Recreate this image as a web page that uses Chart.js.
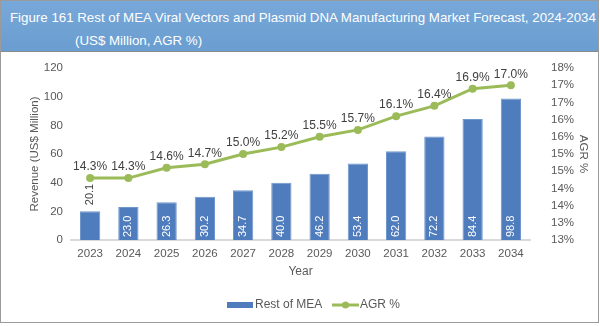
<!DOCTYPE html>
<html>
<head>
<meta charset="utf-8">
<script src="https://cdn.jsdelivr.net/npm/chart.js@4"></script>
<style>
  body { margin: 0; width: 600px; height: 326px; overflow: hidden; background: #fff; font-family: "Liberation Sans", Arial, sans-serif; }
  #frame { position: absolute; left: 0; top: 0; width: 597px; height: 321px; border: 1px solid #9a9a9a; }
  #banner { position: absolute; left: 0; top: 0; width: 597px; height: 50px; background: linear-gradient(#78a8d9, #6a9dd0); border-bottom: 1px solid #8a8a8a; color: #fff; font-size: 13.3px; }
  #banner .l1 { position: absolute; left: 9px; top: 9px; white-space: nowrap; }
  #banner .l2 { position: absolute; left: 74px; top: 32px; white-space: nowrap; }
  #wrap { position: absolute; left: 0; top: 52px; width: 597px; height: 269px; }
</style>
</head>
<body>
<div id="frame">
  <div id="banner">
    <div class="l1">Figure 161 Rest of MEA Viral Vectors and Plasmid DNA Manufacturing Market Forecast, 2024-2034</div>
    <div class="l2">(US$ Million, AGR %)</div>
  </div>
  <div id="wrap"><canvas id="chart"></canvas></div>
</div>
<script>
let years = ['2023', '2024', '2025', '2026', '2027', '2028', '2029', '2030', '2031', '2032', '2033', '2034'];
let revenue = [20.1, 23.0, 26.3, 30.2, 34.7, 40.0, 46.2, 53.4, 62.0, 72.2, 84.4, 98.8];
let agr = [14.3, 14.3, 14.6, 14.7, 15.0, 15.2, 15.5, 15.7, 16.1, 16.4, 16.9, 17.0];

const textColor = '#595959';
const barColor = '#4f7cbd';
const lineColor = '#9bbb59';
const font = '"Liberation Sans", Arial, sans-serif';

// value labels: revenue written upright inside the bar base, AGR above each point
const labelPlugin = {
    id: 'labels',
    afterDatasetsDraw(chart) {
        const ctx = chart.ctx;
        ctx.save();
        ctx.font = '11px ' + font;
        const bars = chart.getDatasetMeta(0).data;
        bars.forEach((bar, i) => {
            const txt = revenue[i].toFixed(1);
            const w = ctx.measureText(txt).width;
            ctx.save();
            ctx.translate(bar.x, 0);
            ctx.rotate(-Math.PI / 2);
            ctx.textBaseline = 'middle';
            ctx.textAlign = 'left';
            if (bar.base - bar.y < w + 9) {
                // too short to hold the text, put it above the bar
                ctx.fillStyle = '#404040';
                ctx.fillText(txt, -(bar.y - 6), 0);
            } else {
                ctx.fillStyle = '#ffffff';
                ctx.fillText(txt, -(bar.base - 3), 0);
            }
            ctx.restore();
        });
        const pts = chart.getDatasetMeta(1).data;
        ctx.font = '12px ' + font;
        ctx.fillStyle = '#404040';
        ctx.textAlign = 'center';
        ctx.textBaseline = 'bottom';
        pts.forEach((p, i) => {
            ctx.fillText(agr[i].toFixed(1) + '%', p.x, p.y - 5);
        });
        ctx.restore();
    },
    afterDraw(chart) {
        // legend row
        const ctx = chart.ctx;
        const y = chart.height - 17;
        ctx.save();
        ctx.font = '12px ' + font;
        ctx.textBaseline = 'middle';
        ctx.fillStyle = barColor;
        ctx.fillRect(226, y - 3, 26, 6);
        ctx.fillStyle = textColor;
        ctx.fillText('Rest of MEA', 254, y);
        ctx.strokeStyle = lineColor;
        ctx.lineWidth = 3;
        ctx.beginPath();
        ctx.moveTo(331, y);
        ctx.lineTo(358, y);
        ctx.stroke();
        ctx.fillStyle = lineColor;
        ctx.beginPath();
        ctx.arc(344.5, y, 3.5, 0, Math.PI * 2);
        ctx.fill();
        ctx.fillStyle = textColor;
        ctx.fillText('AGR %', 359, y);
        ctx.restore();
    }
};

// keep the tick padding from pushing the plot area down
function trimPadding(scale) {
    scale.paddingTop = 7;
    scale.paddingBottom = 7;
}

new Chart(document.getElementById('chart'), {
    data: {
        labels: years,
        datasets: [
            {
                type: 'bar',
                label: 'Rest of MEA',
                data: revenue,
                backgroundColor: barColor,
                borderColor: '#6f97cc',
                borderWidth: 1,
                barPercentage: 0.53,
                categoryPercentage: 1,
                yAxisID: 'y',
                order: 2
            },
            {
                type: 'line',
                label: 'AGR %',
                data: agr,
                borderColor: lineColor,
                backgroundColor: lineColor,
                borderWidth: 3,
                pointRadius: 4,
                pointBackgroundColor: lineColor,
                pointBorderWidth: 0,
                yAxisID: 'y1',
                order: 1
            }
        ]
    },
    options: {
        responsive: true,
        maintainAspectRatio: false,
        animation: false,
        layout: { padding: { top: 15, bottom: 43 } },
        plugins: { legend: { display: false }, tooltip: { enabled: false } },
        scales: {
            x: {
                grid: { display: false, drawTicks: false },
                border: { color: '#d9d9d9', width: 2 },
                ticks: { color: textColor, font: { family: font, size: 11.5 }, padding: 7, maxRotation: 0 },
                title: { display: true, text: 'Year', color: textColor, font: { family: font, size: 12 }, padding: { top: 5, bottom: 0 } },
                afterFit(scale) { scale.height = 39; }
            },
            y: {
                position: 'left',
                min: 0,
                max: 120,
                grid: { display: false, drawTicks: false },
                border: { display: false },
                ticks: { stepSize: 20, color: textColor, font: { family: font, size: 11.5 }, padding: 8 },
                title: { display: true, text: 'Revenue (US$ Million)', color: textColor, font: { family: font, size: 11.5 }, padding: { top: 27, bottom: 0 } },
                afterFit(scale) { scale.width = 70; trimPadding(scale); }
            },
            y1: {
                position: 'right',
                min: 12.5,
                max: 17.5,
                grid: { display: false, drawTicks: false },
                border: { display: false },
                ticks: {
                    stepSize: 0.5,
                    autoSkip: false,
                    color: textColor,
                    font: { family: font, size: 11.5 },
                    padding: 21,
                    callback: v => Math.round(v) + '%'
                },
                title: { display: true, text: 'AGR %', color: textColor, font: { family: font, size: 11.5 }, padding: { top: 8, bottom: 0 } },
                afterFit(scale) { scale.width = 68; trimPadding(scale); }
            }
        }
    },
    plugins: [labelPlugin]
});
</script>
</body>
</html>
